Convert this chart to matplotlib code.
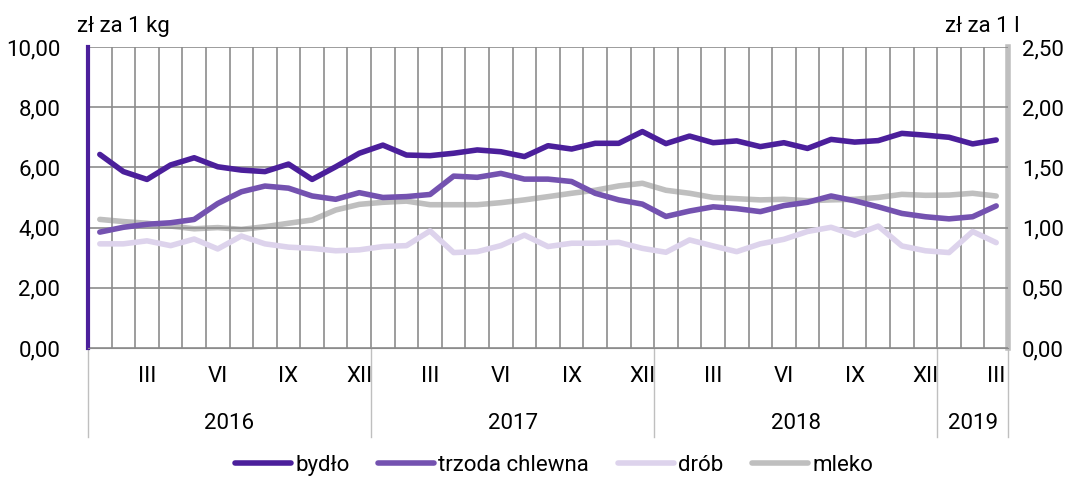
import matplotlib
matplotlib.use("Agg")
import matplotlib.pyplot as plt
import matplotlib.transforms as mtransforms
from matplotlib.ticker import FuncFormatter

plt.rcParams['font.family'] = ['Roboto', 'DejaVu Sans']

# ceny miesieczne I 2016 - III 2019
lata = ['2016', '2017', '2018', '2019']
miesiace_w_roku = [12, 12, 12, 3]
rzymskie = ['III', 'VI', 'IX', 'XII']

bydlo = [6.43, 5.86, 5.60, 6.08, 6.32, 6.02, 5.91, 5.86, 6.11, 5.60, 6.02, 6.47,
         6.74, 6.41, 6.39, 6.47, 6.58, 6.52, 6.36, 6.72, 6.61, 6.80, 6.80, 7.19,
         6.79, 7.04, 6.82, 6.88, 6.69, 6.82, 6.63, 6.93, 6.84, 6.89, 7.13, 7.07,
         7.00, 6.78, 6.91]
trzoda = [3.85, 4.01, 4.11, 4.16, 4.27, 4.80, 5.19, 5.38, 5.31, 5.05, 4.94, 5.16,
          5.00, 5.03, 5.10, 5.71, 5.67, 5.80, 5.61, 5.61, 5.53, 5.14, 4.92, 4.78,
          4.37, 4.55, 4.69, 4.63, 4.53, 4.73, 4.84, 5.05, 4.89, 4.69, 4.47, 4.36,
          4.29, 4.36, 4.72]
drob = [3.46, 3.46, 3.56, 3.40, 3.62, 3.29, 3.72, 3.46, 3.35, 3.31, 3.23, 3.26,
        3.37, 3.40, 3.89, 3.17, 3.20, 3.40, 3.75, 3.37, 3.48, 3.48, 3.51, 3.31,
        3.18, 3.59, 3.39, 3.20, 3.46, 3.61, 3.87, 4.01, 3.75, 4.05, 3.39, 3.23,
        3.17, 3.87, 3.50]
mleko = [1.068, 1.050, 1.036, 1.013, 0.990, 1.000, 0.985, 1.007, 1.036, 1.063, 1.146, 1.193,
         1.210, 1.220, 1.190, 1.190, 1.190, 1.207, 1.230, 1.257, 1.285, 1.310, 1.346, 1.368,
         1.310, 1.285, 1.250, 1.240, 1.230, 1.235, 1.223, 1.230, 1.235, 1.250, 1.276, 1.268,
         1.270, 1.285, 1.262]

c_bydlo = '#4b1f9b'
c_trzoda = '#7452b0'
c_drob = '#ddd3ec'
c_mleko = '#bfbfbf'
c_grid = '#8c8c8c'
fs = 16

n = len(bydlo)
x = list(range(n))

fig = plt.figure(figsize=(10.76, 4.78), dpi=100)
ax = fig.add_axes([0.0818, 0.272, 0.855, 0.6297])
ax2 = ax.twinx()

lw = 4
l1, = ax.plot(x, bydlo, color=c_bydlo, lw=lw, label='bydło', solid_capstyle='round')
l2, = ax.plot(x, trzoda, color=c_trzoda, lw=lw, label='trzoda chlewna', solid_capstyle='round')
l3, = ax.plot(x, drob, color=c_drob, lw=lw, label='drób', solid_capstyle='round')
l4, = ax2.plot(x, mleko, color=c_mleko, lw=lw, label='mleko', solid_capstyle='round')
ax.set_zorder(ax2.get_zorder() + 1)
ax.patch.set_visible(False)

ax.set_xlim(-0.5, n - 0.5)
ax.set_ylim(0, 10)
ax2.set_ylim(0, 2.5)
ax.set_yticks([0, 2, 4, 6, 8, 10])
ax2.set_yticks([0, 0.5, 1, 1.5, 2, 2.5])
fmt = FuncFormatter(lambda v, p: f'{v:.2f}'.replace('.', ','))
ax.yaxis.set_major_formatter(fmt)
ax2.yaxis.set_major_formatter(fmt)
ax.tick_params(axis='y', length=0, labelsize=fs, pad=20)
ax2.tick_params(axis='y', length=0, labelsize=fs, pad=10)

# siatka miesieczna
ax.set_xticks([i + 0.5 for i in range(n - 1)], minor=True)
ax.grid(True, which='minor', axis='x', color=c_grid, lw=1.2)
ax.grid(True, which='major', axis='y', color=c_grid, lw=1.2)
ax.tick_params(axis='x', which='minor', length=0)

# etykiety miesiecy
pos, lab = [], []
start = 0
for m in miesiace_w_roku:
    for k, r in enumerate(rzymskie):
        idx = 2 + 3 * k
        if idx < m:
            pos.append(start + idx)
            lab.append(r)
    start += m
ax.set_xticks(pos)
ax.set_xticklabels(lab)
ax.tick_params(axis='x', which='major', length=0, labelsize=fs, pad=13)

for s in ['top']:
    ax.spines[s].set_visible(False)
    ax2.spines[s].set_visible(False)
ax.spines['bottom'].set_color(c_grid)
ax2.spines['bottom'].set_visible(False)
ax.spines['left'].set_color(c_bydlo)
ax.spines['left'].set_linewidth(3)
ax.spines['right'].set_visible(False)
ax2.spines['left'].set_visible(False)
ax2.spines['right'].set_color(c_mleko)
ax2.spines['right'].set_linewidth(4)

# lata i separatory
tr = mtransforms.blended_transform_factory(ax.transData, ax.transAxes)
start = 0
bounds = [-0.5]
for rok, m in zip(lata, miesiace_w_roku):
    ax.text(start - 0.5 + m / 2, -0.25, rok, transform=tr, ha='center', va='center', fontsize=fs)
    start += m
    bounds.append(start - 0.5)
for b in bounds:
    ax.plot([b, b], [0, -0.295], transform=tr, color='#bfbfbf', lw=1, clip_on=False)

fig.text(0.072, 0.944, 'zł za 1 kg', fontsize=fs, ha='left', va='center')
fig.text(0.948, 0.944, 'zł za 1 l', fontsize=fs, ha='right', va='center')

fig.legend(handles=[l1, l2, l3, l4], loc='center', bbox_to_anchor=(0.515, 0.027), ncol=4,
           frameon=False, fontsize=fs, handlelength=2.5, handletextpad=0.2, columnspacing=1.3)

fig.savefig('out.png', dpi=100)
